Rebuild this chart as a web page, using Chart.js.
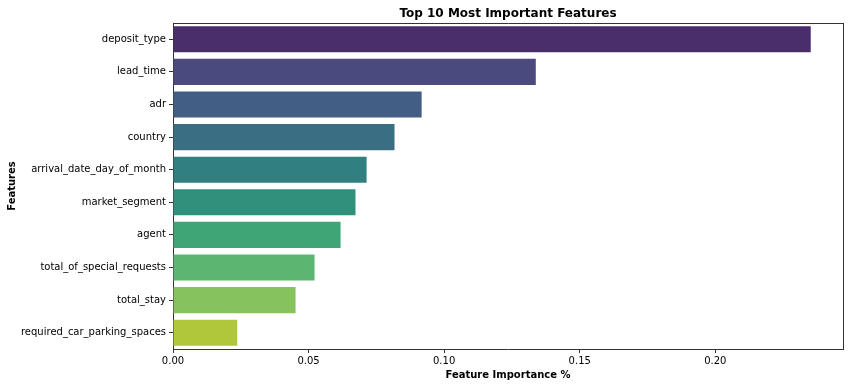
<!DOCTYPE html>
<html>
<head>
<meta charset="utf-8">
<script src="https://cdn.jsdelivr.net/npm/chart.js@4.4.1/dist/chart.umd.min.js"></script>
<style>
html,body{margin:0;padding:0;background:#fff;}
#wrap{width:850px;height:387px;position:relative;}
</style>
</head>
<body>
<div id="wrap"><canvas id="c" width="850" height="387"></canvas></div>
<script>
const features = ["deposit_type","lead_time","adr","country","arrival_date_day_of_month","market_segment","agent","total_of_special_requests","total_stay","required_car_parking_spaces"];
const importance = [0.2352,0.1338,0.0917,0.0817,0.0714,0.0673,0.0618,0.0522,0.0452,0.0237];
const xTicks = [0,0.05,0.10,0.15,0.20];
const barColors = ["#4a2d6b","#4a4a7e","#425e84","#3a6f83","#317f7f","#31907c","#3fa577","#5cb671","#86c25e","#b0c73c"];

const FONT = "'DejaVu Sans', sans-serif";
const xMax = 0.2471;

new Chart(document.getElementById('c'), {
  type: 'bar',
  data: {
    labels: features,
    datasets: [{
      data: importance,
      backgroundColor: barColors,
      borderWidth: 0,
      categoryPercentage: 0.8,
      barPercentage: 1.0
    }]
  },
  options: {
    indexAxis: 'y',
    responsive: false,
    animation: false,
    layout: { padding: { left: 0, right: 7, top: 0, bottom: 0 } },
    plugins: { legend: { display: false }, tooltip: { enabled: false }, title: { display: false } },
    scales: {
      x: {
        type: 'linear', position: 'bottom', min: 0, max: xMax,
        afterBuildTicks: s => { s.ticks = xTicks.map(v => ({ value: v })); },
        afterFit: s => { s.height = 38; },
        ticks: { font: { family: FONT, size: 10 }, color: '#000', padding: 2, maxRotation: 0,
                 callback: v => Number(v).toFixed(2) },
        grid: { display: true, drawOnChartArea: false, tickLength: 4, tickColor: '#333', tickWidth: 1 },
        border: { display: true, color: '#333', width: 1 },
        title: { display: true, text: 'Feature Importance %', font: { family: FONT, size: 10, weight: 'bold' }, color: '#000', padding: { top: 0, bottom: 6 } }
      },
      xTop: {
        type: 'linear', position: 'top', min: 0, max: xMax,
        afterFit: s => { s.height = 23; },
        ticks: { display: false },
        grid: { display: false },
        border: { display: true, color: '#333', width: 1 },
        title: { display: true, text: 'Top 10 Most Important Features', font: { family: FONT, size: 12, weight: 'bold' }, color: '#000', padding: { top: 7, bottom: 0 } }
      },
      y: {
        type: 'category', position: 'left',
        afterFit: s => { s.width = 173; },
        ticks: { font: { family: FONT, size: 10 }, color: '#000', padding: 3 },
        grid: { display: true, drawOnChartArea: false, tickLength: 4, tickColor: '#333', tickWidth: 1, offset: false },
        border: { display: true, color: '#333', width: 1 },
        title: { display: true, text: 'Features', font: { family: FONT, size: 10, weight: 'bold' }, color: '#000', padding: { top: 6, bottom: 0 } }
      },
      yRight: {
        type: 'category', position: 'right', labels: features,
        afterFit: s => { s.width = 0; },
        ticks: { display: false },
        grid: { display: false },
        border: { display: true, color: '#333', width: 1 }
      }
    }
  }
});
</script>
</body>
</html>
